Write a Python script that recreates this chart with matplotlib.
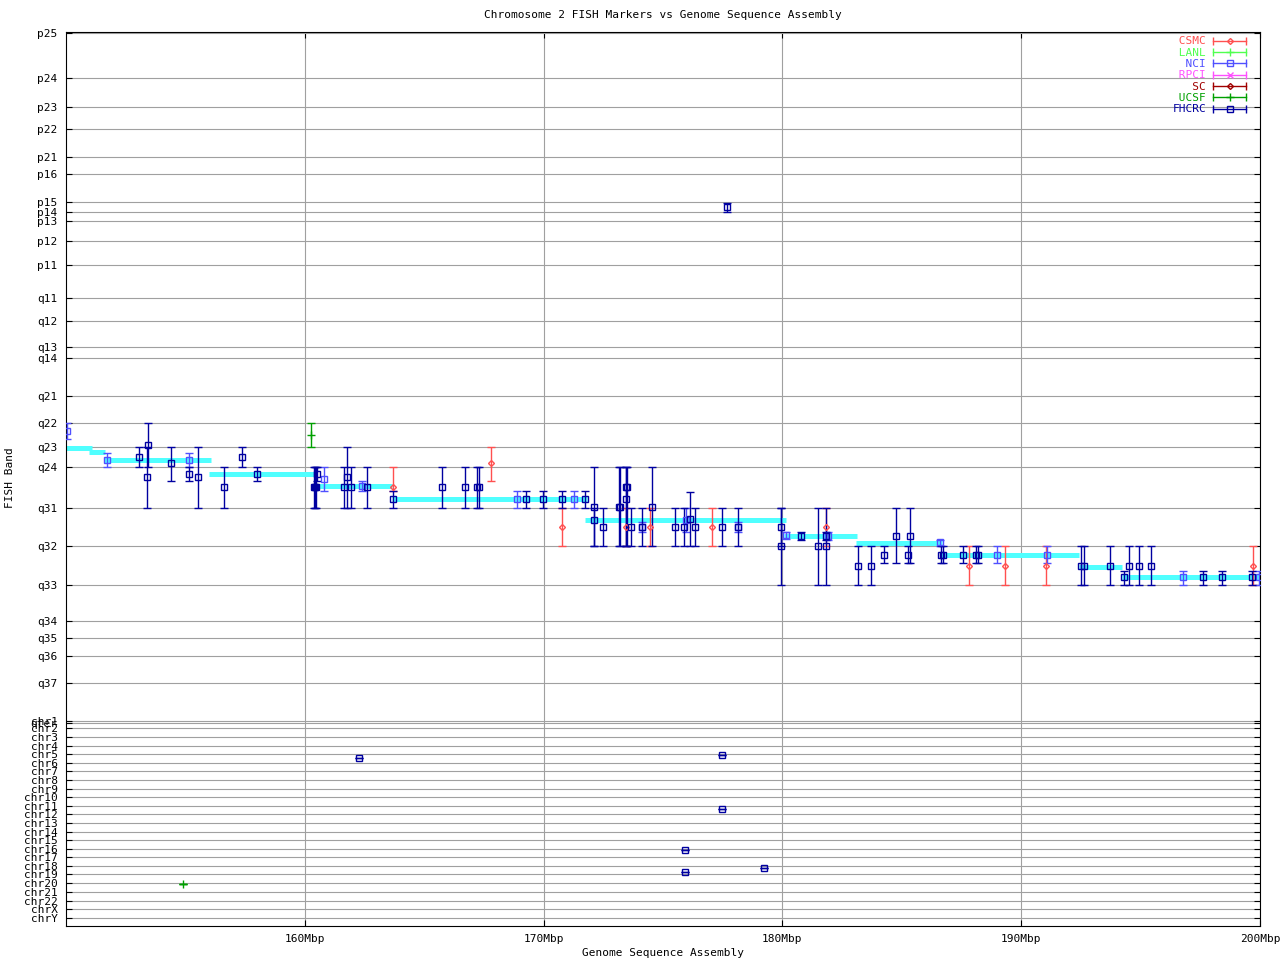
import numpy as np
import matplotlib
matplotlib.use("Agg")
import matplotlib.pyplot as plt
from matplotlib.lines import Line2D
from matplotlib.legend_handler import HandlerLine2D

plt.rcParams['font.family'] = ['DejaVu Sans Mono']
FS = 8

# band axis: positions on the band scale (same units as the data y values)
band_names = ['p25', 'p24', 'p23', 'p22', 'p21', 'p16', 'p15', 'p14', 'p13', 'p12', 'p11',
              'q11', 'q12', 'q13', 'q14', 'q21', 'q22', 'q23', 'q24', 'q31', 'q32', 'q33',
              'q34', 'q35', 'q36', 'q37', 'qter',
              'chr1', 'chr2', 'chr3', 'chr4', 'chr5', 'chr6', 'chr7', 'chr8', 'chr9', 'chr10',
              'chr11', 'chr12', 'chr13', 'chr14', 'chr15', 'chr16', 'chr17', 'chr18', 'chr19',
              'chr20', 'chr21', 'chr22', 'chrX', 'chrY']
band_pos = [33, 78, 107, 129, 157, 174, 202, 212, 221, 241, 265,
            298, 321, 347, 358, 396, 423, 447, 467, 508, 546, 585,
            621, 638, 656, 683, 722.5,
            720.5, 728, 737, 746, 754, 763, 771, 780, 789, 797,
            806, 814, 823, 832, 840, 849, 857, 866, 874,
            883, 892, 901, 909, 918]

# sequence assembly band segments (Mbp start, Mbp end, band)
seq_start = [150.0, 150.96, 151.59, 155.98, 160.46, 163.64, 171.72, 180.08, 183.10, 186.65, 192.43, 194.23]
seq_end = [151.09, 151.63, 156.07, 160.50, 163.64, 171.80, 180.17, 183.14, 186.69, 192.43, 194.23, 200.0]
seq_band = [448, 452, 460, 474, 486, 499, 520, 536, 543, 555, 567, 577]

# FISH markers: (Mbp, band, band_top, band_bottom)
csmc = [(163.68, 487, 467, 491), (167.78, 463, 447, 481), (170.75, 527, 508, 546),
        (173.43, 527, 508, 546), (174.44, 527, 508, 546), (177.07, 527, 508, 546),
        (181.84, 527, 508, 546), (187.82, 566, 546, 585), (189.33, 566, 546, 585),
        (191.05, 566, 546, 585), (199.71, 566, 546, 585)]
lanl = []
nci = [(150.04, 431, 423, 439), (151.70, 460, 453, 467), (155.15, 460, 453, 467),
       (160.79, 479, 467, 491), (162.38, 486, 481, 491), (168.87, 499, 491, 508),
       (171.26, 499, 491, 508), (174.14, 527, 522, 532), (175.98, 520, 508, 532),
       (178.16, 527, 522, 532), (180.17, 535, 532, 539), (181.92, 536, 532, 540),
       (186.61, 542, 540, 546), (189.00, 555, 546, 563), (191.09, 555, 546, 563),
       (196.78, 577, 571, 585), (199.96, 577, 571, 585)]
rpci = []
sc = []
ucsf = [(160.25, 435, 423, 447), (154.90, 884, 884, 884)]
fhcrc = [(153.05, 457, 447, 467), (153.43, 445, 423, 467), (153.39, 477, 447, 508),
         (154.39, 463, 447, 481), (155.15, 474, 467, 481), (155.52, 477, 447, 508),
         (156.61, 487, 467, 508), (157.36, 457, 447, 467), (157.99, 474, 467, 481),
         (160.38, 487, 467, 508), (160.42, 487, 467, 508), (160.46, 487, 467, 508),
         (160.50, 474, 467, 481), (161.63, 487, 467, 508), (161.76, 477, 447, 508),
         (161.92, 487, 467, 508), (162.59, 487, 467, 508), (163.68, 499, 491, 508),
         (165.73, 487, 467, 508), (166.69, 487, 467, 508), (167.20, 487, 467, 508),
         (167.28, 487, 467, 508), (169.25, 499, 491, 508), (169.96, 499, 491, 508),
         (170.75, 499, 491, 508), (171.72, 499, 491, 508), (172.09, 507, 467, 546),
         (172.13, 520, 508, 546), (172.47, 527, 508, 546), (173.14, 507, 467, 546),
         (173.22, 507, 467, 546), (173.43, 499, 467, 546), (173.43, 487, 467, 546),
         (173.51, 487, 467, 546), (173.68, 527, 508, 546), (174.14, 527, 508, 546),
         (174.52, 507, 467, 546), (175.52, 527, 508, 546), (175.86, 527, 508, 546),
         (176.15, 519, 492, 546), (176.32, 527, 508, 546), (177.49, 527, 508, 546),
         (178.16, 527, 508, 546), (179.96, 527, 508, 546), (179.96, 546, 508, 585),
         (180.79, 536, 532, 540), (181.51, 546, 508, 585), (181.84, 536, 532, 540),
         (181.84, 546, 508, 585), (183.18, 566, 546, 585), (183.72, 566, 546, 585),
         (184.27, 555, 546, 563), (184.77, 536, 508, 563), (185.27, 555, 546, 563),
         (185.36, 536, 508, 563), (186.65, 555, 546, 563), (186.74, 555, 546, 563),
         (187.57, 555, 546, 563), (188.12, 555, 546, 563), (188.20, 555, 546, 563),
         (192.51, 566, 546, 585), (192.64, 566, 546, 585), (193.72, 566, 546, 585),
         (194.31, 577, 571, 585), (194.52, 566, 546, 585), (194.94, 566, 546, 585),
         (195.44, 566, 546, 585), (197.62, 577, 571, 585), (198.41, 577, 571, 585),
         (199.67, 577, 571, 585), (177.70, 207, 203, 212),
         (162.26, 758, 758, 758), (177.49, 755, 755, 755), (177.49, 809, 809, 809),
         (175.94, 850, 850, 850), (175.94, 872, 872, 872), (179.21, 868, 868, 868)]

series = [('CSMC', csmc, '#ff5050', 'D', 3),
          ('LANL', lanl, '#50ff50', '+', 6),
          ('NCI', nci, '#5050ff', 's', 5),
          ('RPCI', rpci, '#ff50ff', 'x', 4),
          ('SC', sc, '#a00000', 'D', 3),
          ('UCSF', ucsf, '#00a000', '+', 6),
          ('FHCRC', fhcrc, '#0000a0', 's', 5)]


def drawSeries(ax, pts, color, marker, ms):
    if len(pts) == 0:
        return
    x, y, top, bot = np.array(pts, dtype=float).T
    ax.errorbar(x, y, yerr=[y - top, bot - y], fmt=marker, color=color, ecolor=color,
                mfc='none', ms=ms, mew=1, elinewidth=1, capsize=3, capthick=1, zorder=3)


fig = plt.figure(figsize=(12.8, 9.6), dpi=100)
ax = fig.add_axes([66 / 1280, 34 / 960, 1194 / 1280, 894 / 960])

ax.hlines(seq_band, seq_start, seq_end, colors='#50ffff', lw=3.6, capstyle='butt', zorder=2)

handles = []
labels = []
hmap = {}
for name, pts, color, marker, ms in series:
    drawSeries(ax, pts, color, marker, ms)
    caps = Line2D([], [], color=color, lw=1, marker='|', ms=6, mew=1)
    pt = Line2D([], [], ls='none', color=color, marker=marker, mfc='none', ms=ms, mew=1)
    hmap[caps] = HandlerLine2D(numpoints=2, marker_pad=0)
    hmap[pt] = HandlerLine2D(numpoints=1)
    handles.append((caps, pt))
    labels.append(name.rjust(5))

ax.set_xlim(150, 200)
ax.set_ylim(926, 32)
ax.set_xticks([160, 170, 180, 190, 200])
ax.set_xticklabels([f"{v}Mbp" for v in [160, 170, 180, 190, 200]])
ax.set_yticks(band_pos)
ax.set_yticklabels(band_names)
ax.tick_params(axis='both', direction='in', length=4, width=0.8, labelsize=FS,
               top=True, right=True, pad=6)
ax.grid(True, color='#a0a0a0', lw=0.8, zorder=0)
ax.set_axisbelow(True)
for s in ax.spines.values():
    s.set_linewidth(0.8)

leg = ax.legend(handles, labels, handler_map=hmap, loc='upper right',
                bbox_to_anchor=(0.9883, 0.995), frameon=False, markerfirst=False,
                fontsize=FS, handlelength=2.97, handletextpad=0.63, labelspacing=0.12,
                borderpad=0, borderaxespad=0,
                labelcolor=[s[2] for s in series])

fig.text(663 / 1280, 1 - 15 / 960, "Chromosome 2 FISH Markers vs Genome Sequence Assembly",
         ha='center', va='center', fontsize=FS)
fig.text(663 / 1280, 1 - 953 / 960, "Genome Sequence Assembly", ha='center', va='center', fontsize=FS)
fig.text(10 / 1280, 1 - 478 / 960, "FISH Band", ha='center', va='center', rotation=90, fontsize=FS)

fig.savefig("out.png", dpi=100)
